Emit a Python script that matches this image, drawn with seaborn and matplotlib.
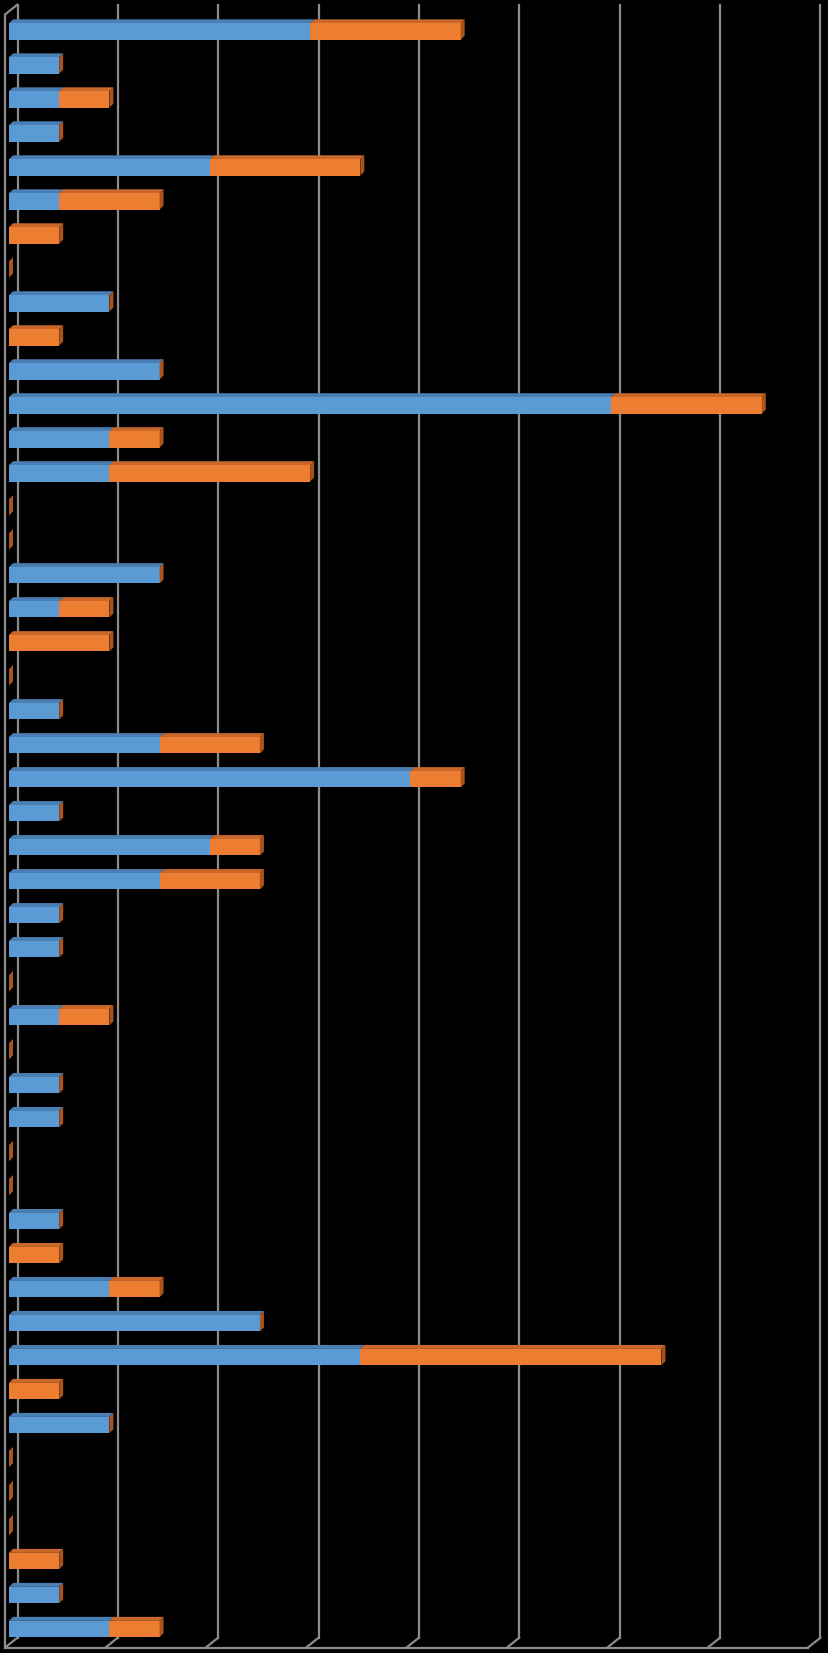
import numpy as np
import pandas as pd
import seaborn as sns
import matplotlib
matplotlib.use("Agg")
import matplotlib.pyplot as plt
from matplotlib.transforms import ScaledTranslation

# values (48 rows, top to bottom)
rows = [str(i) for i in range(1, 49)]
blue = [6, 1, 1, 1, 4, 1, 0, 0, 2, 0, 3, 12, 2, 2, 0, 0, 3, 1, 0, 0, 1, 3, 8, 1,
        4, 3, 1, 1, 0, 1, 0, 1, 1, 0, 0, 1, 0, 2, 5, 7, 0, 2, 0, 0, 0, 0, 1, 2]
orange = [3, 0, 1, 0, 3, 2, 1, 0, 0, 1, 0, 3, 1, 4, 0, 0, 0, 1, 2, 0, 0, 2, 1, 0,
          1, 2, 0, 0, 0, 1, 0, 0, 0, 0, 0, 0, 1, 1, 0, 6, 1, 0, 0, 0, 0, 1, 0, 1]
grid_ticks = [0, 2, 4, 6, 8, 10, 12, 14, 16]

df = pd.DataFrame({"row": rows, "blue": blue, "orange": orange})
df["total"] = df["blue"] + df["orange"]

c_blue, c_orange = "#5B9BD5", "#ED7D31"
c_blue_top, c_orange_top, c_side = "#4A7FB3", "#C9682A", "#A9541C"
grid_c = "#8C8C8C"

fig = plt.figure(figsize=(8.29, 16.53), dpi=100, facecolor="black")
ax = fig.add_axes([9 / 829, 1 - 1646 / 1653, 803 / 829, 1631.5 / 1653])
ax.set_facecolor("black")

# back wall grid, shifted up/right for the 3d look
back = ax.get_xaxis_transform() + ScaledTranslation(0.085, 0.10, fig.dpi_scale_trans)
front = ax.get_xaxis_transform()
for v in grid_ticks:
    ax.plot([v, v], [-0.001, 1.0], color=grid_c, lw=1.6, transform=back, clip_on=False, zorder=0)
# floor edges
ax.plot([-0.08, 15.92], [-0.001, -0.001], color=grid_c, lw=1.6, transform=front, clip_on=False, zorder=0)
for v in grid_ticks:
    ax.annotate("", xy=(v, -0.001), xycoords=back, xytext=(v - 0.08, -0.001), textcoords=front,
                arrowprops=dict(arrowstyle="-", color=grid_c, lw=1.6, shrinkA=0, shrinkB=0))
# left wall
ax.plot([-0.08, -0.08], [-0.001, 1.0], color=grid_c, lw=1.6, transform=front, clip_on=False, zorder=0)
ax.annotate("", xy=(0, 1.0), xycoords=back, xytext=(-0.08, 1.0), textcoords=front,
            arrowprops=dict(arrowstyle="-", color=grid_c, lw=1.6, shrinkA=0, shrinkB=0))

h = 0.48
sns.barplot(data=df, x="total", y="row", order=rows, color=c_orange, saturation=1,
            width=h, errorbar=None, orient="h", ax=ax, zorder=3)
sns.barplot(data=df, x="blue", y="row", order=rows, color=c_blue, saturation=1,
            width=h, errorbar=None, orient="h", ax=ax, zorder=3)

# top and side faces of each bar
dx, dy = 4 / 50.2, 4 / 34.0
for i, r in df.iterrows():
    top = i - h / 2
    if r["blue"] > 0:
        ax.fill([0, r["blue"], r["blue"] + dx, dx], [top, top, top - dy, top - dy],
                color=c_blue_top, lw=0, zorder=2)
    if r["orange"] > 0:
        ax.fill([r["blue"], r["total"], r["total"] + dx, r["blue"] + dx],
                [top, top, top - dy, top - dy], color=c_orange_top, lw=0, zorder=2)
    t = r["total"]
    ax.fill([t, t, t + dx, t + dx], [top, top + h, top + h - dy, top - dy],
            color=c_side, lw=0, zorder=4)

ax.set_xlim(0, 16)
ax.set_ylim(47.5, -0.5)
ax.set_xlabel("")
ax.set_ylabel("")
ax.set_xticks([])
ax.set_yticks([])
for s in ax.spines.values():
    s.set_visible(False)

fig.savefig("out.png", dpi=100, facecolor="black")
